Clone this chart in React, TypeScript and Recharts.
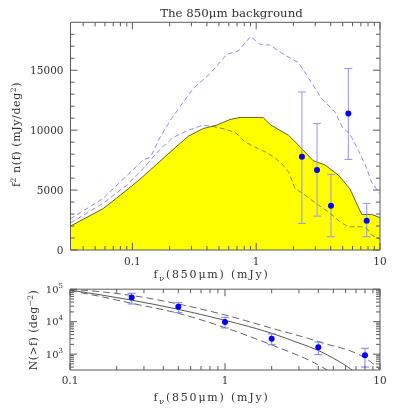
import React from 'react';
import { ComposedChart, Line, Area, Scatter, XAxis, YAxis, ErrorBar } from 'recharts';

const FONT = '"DejaVu Serif", serif';
const INK = '#333333';
const FRAME = '#5a5a5a';
const BLUE = '#0000ff';
const LIGHT = '#8c8cff';

// ---------- Top panel: f^2 n(f) (mJy/deg^2) ----------
const bgFlux = [0.0316, 0.058, 0.09, 0.115, 0.201, 0.283, 0.374, 0.48, 0.614, 0.74, 1.14, 1.3, 1.82, 2.26, 2.89, 3.59, 4.6, 5.72, 7.11, 8.57, 10];
const bgValue = [2000, 3450, 5000, 5900, 8150, 9500, 10140, 10420, 10890, 11060, 11060, 10450, 9580, 8610, 7450, 7100, 6250, 5100, 2970, 2970, 2700];

const hiFlux = [0.0316, 0.058, 0.09, 0.122, 0.14, 0.167, 0.207, 0.31, 0.424, 0.58, 0.716, 0.904, 1.07, 1.29, 1.71, 2.19, 2.56, 3.38, 4.33, 5.0, 5.7, 6.7, 7.6, 8.6, 10];
const hiValue = [2600, 4300, 6200, 7500, 7750, 9400, 10970, 13470, 14720, 16330, 16610, 17830, 17170, 17100, 16250, 15640, 14580, 12640, 11500, 10200, 9700, 8300, 7100, 5600, 4700];

const loFlux = [0.0316, 0.058, 0.09, 0.122, 0.167, 0.214, 0.283, 0.374, 0.45, 0.578, 0.695, 0.81, 0.97, 1.25, 1.56, 1.82, 2.06, 2.48, 3.18, 3.82, 4.75, 5.55, 7.1, 7.8, 8.57, 10];
const loValue = [2250, 3900, 5400, 6800, 8400, 9400, 10000, 10420, 10300, 10060, 9720, 9030, 8610, 8060, 7360, 6525, 5140, 4580, 3750, 3190, 2360, 1940, 1940, 1810, 1250, 900];

const ptFlux = [2.34, 3.1, 4.02, 5.55, 7.81];
const ptValue = [7780, 6670, 3690, 11390, 2440];
const ptErrLow = [5560, 3840, 2580, 3830, 1330];
const ptErrHigh = [5410, 3890, 2620, 3750, 1450];

// ---------- Bottom panel: N(>f) (deg^-2) ----------
const cntFlux = [0.25, 0.5, 1, 2, 4, 8];
const cntValue = [56000, 29000, 9800, 3000, 1630, 925];
const cntErrLow = [21000, 10100, 3400, 1050, 665, 525];
const cntErrHigh = [18800, 9400, 3800, 1200, 740, 590];

const fitFlux = [0.1, 0.25, 0.5, 1, 2, 3, 4, 5, 6.6, 8];
const fitValue = [94000, 46000, 24000, 11000, 4400, 2200, 1300, 750, 327, 150];
const fitHiFlux = [0.1, 0.156, 0.25, 0.5, 1, 2, 4, 8.84, 10];
const fitHiValue = [100000, 84000, 64000, 35000, 16100, 6270, 2430, 550, 330];
const fitLoFlux = [0.1, 0.156, 0.25, 0.5, 1, 2, 4, 5];
const fitLoValue = [90000, 60000, 36800, 18100, 6530, 1920, 466, 250];

// ---------- Tick values ----------
const topXTicks = [0.04, 0.05, 0.06, 0.07, 0.08, 0.09, 0.1, 0.2, 0.3, 0.4, 0.5, 0.6, 0.7, 0.8, 0.9, 1, 2, 3, 4, 5, 6, 7, 8, 9, 10];
const topYTicks = [0, 1000, 2000, 3000, 4000, 5000, 6000, 7000, 8000, 9000, 10000, 11000, 12000, 13000, 14000, 15000, 16000, 17000, 18000];
const botXTicks = [0.1, 0.2, 0.3, 0.4, 0.5, 0.6, 0.7, 0.8, 0.9, 1, 2, 3, 4, 5, 6, 7, 8, 9, 10];
const botYTicks = [400, 500, 600, 700, 800, 900, 1000, 2000, 3000, 4000, 5000, 6000, 7000, 8000, 9000, 10000, 20000, 30000, 40000, 50000, 60000, 70000, 80000, 90000, 100000];

const zip = (xs: number[], ys: number[]) => xs.map((f, i) => ({ f, v: ys[i] }));
const bgData = zip(bgFlux, bgValue);
const hiData = zip(hiFlux, hiValue);
const loData = zip(loFlux, loValue);
const ptData = ptFlux.map((f, i) => ({ f, v: ptValue[i], err: [ptErrLow[i], ptErrHigh[i]] }));
const cntData = cntFlux.map((f, i) => ({ f, v: cntValue[i], err: [cntErrLow[i], cntErrHigh[i]] }));
const fitData = zip(fitFlux, fitValue);
const fitHiData = zip(fitHiFlux, fitHiValue);
const fitLoData = zip(fitLoFlux, fitLoValue);

const isDecade = (v: number) => Math.abs(Math.log10(v) - Math.round(Math.log10(v))) < 1e-9;

const textProps = { fontFamily: FONT, fill: INK };

function makeXTick(side: 'top' | 'bottom', labelDy: number) {
  return (p: any) => {
    const v = p.payload.value;
    const major = isDecade(v);
    const len = major ? 7 : 4;
    const dir = side === 'bottom' ? -1 : 1;
    return (
      <g>
        <line x1={p.x} x2={p.x} y1={p.y} y2={p.y + dir * len} stroke={FRAME} strokeWidth={1} />
        {side === 'bottom' && major ? (
          <text x={p.x} y={p.y + labelDy} textAnchor="middle" fontSize={10.5} {...textProps}>
            {String(v)}
          </text>
        ) : null}
      </g>
    );
  };
}

function makeYTick(side: 'left' | 'right', kind: 'lin' | 'log') {
  return (p: any) => {
    const v = p.payload.value;
    const major = kind === 'lin' ? v % 5000 === 0 : isDecade(v);
    const len = major ? 7 : 4;
    const dir = side === 'left' ? 1 : -1;
    let label: React.ReactNode = null;
    if (side === 'left' && major) {
      if (kind === 'lin') {
        label = (
          <text x={p.x - 7} y={p.y + 3.8} textAnchor="end" fontSize={10.5} {...textProps}>
            {String(v)}
          </text>
        );
      } else {
        label = (
          <text x={p.x - 7} y={p.y + 3.5} textAnchor="end" fontSize={10} {...textProps}>
            <tspan>10</tspan>
            <tspan dy={-5} fontSize={7}>{String(Math.round(Math.log10(v)))}</tspan>
          </text>
        );
      }
    }
    return (
      <g>
        <line x1={p.x} x2={p.x + dir * len} y1={p.y} y2={p.y} stroke={FRAME} strokeWidth={1} />
        {label}
      </g>
    );
  };
}

const Title = () => (
  <text x={231.5} y={17} textAnchor="middle" fontSize={11.8} {...textProps}>
    The 850μm background
  </text>
);

const TopFluxLabel = () => (
  <text x={211.5} y={278} textAnchor="middle" fontSize={11} letterSpacing={1.8} {...textProps}>
    <tspan>f</tspan>
    <tspan dy={2.5} fontSize={8}>ν</tspan>
    <tspan dy={-2.5}>(850μm)  (mJy)</tspan>
  </text>
);

const BotFluxLabel = () => (
  <text x={211.5} y={121} textAnchor="middle" fontSize={11} letterSpacing={1.8} {...textProps}>
    <tspan>f</tspan>
    <tspan dy={2.5} fontSize={8}>ν</tspan>
    <tspan dy={-2.5}>(850μm)  (mJy)</tspan>
  </text>
);

const TopYLabel = () => (
  <text x={0} y={0} transform="translate(20,134.5) rotate(-90)" textAnchor="middle" fontSize={11} letterSpacing={0.6} {...textProps}>
    <tspan>f</tspan>
    <tspan dy={-4} fontSize={7.5}>2</tspan>
    <tspan dy={4}> n(f)  (mJy/deg</tspan>
    <tspan dy={-4} fontSize={7.5}>2</tspan>
    <tspan dy={4}>)</tspan>
  </text>
);

const BotYLabel = () => (
  <text x={0} y={0} transform="translate(37,50) rotate(-90)" textAnchor="middle" fontSize={11} letterSpacing={0.4} {...textProps}>
    <tspan>N(&gt;f)  (deg</tspan>
    <tspan dy={-4} fontSize={7.5}>−2</tspan>
    <tspan dy={4}>)</tspan>
  </text>
);

const Dot = (p: any) => <circle cx={p.cx} cy={p.cy} r={3} fill={BLUE} />;

const css = `
.blend { mix-blend-mode: multiply; }
.blendbars .recharts-errorBars, .blendbars .recharts-errorBar { mix-blend-mode: multiply; }
`;

export default function App() {
  return (
    <div style={{ position: 'absolute', left: 0, top: 0, width: 415, height: 415, background: '#ffffff' }}>
      <style>{css}</style>
      <div style={{ position: 'absolute', left: 0, top: 0 }}>
        <ComposedChart width={415} height={285} margin={{ top: 21.3, right: 0, bottom: 0, left: 0 }}>
          <XAxis
            xAxisId="b"
            dataKey="f"
            type="number"
            scale="log"
            domain={[0.0316228, 10]}
            allowDataOverflow
            ticks={topXTicks}
            interval={0}
            orientation="bottom"
            height={35}
            tickSize={0}
            tickMargin={0}
            tickLine={false}
            axisLine={{ stroke: FRAME }}
            tick={makeXTick('bottom', 14.5)}
            label={<TopFluxLabel />}
          />
          <XAxis
            xAxisId="t"
            dataKey="f"
            type="number"
            scale="log"
            domain={[0.0316228, 10]}
            allowDataOverflow
            ticks={topXTicks}
            interval={0}
            orientation="top"
            height={1}
            tickSize={0}
            tickMargin={0}
            tickLine={false}
            axisLine={{ stroke: FRAME }}
            tick={makeXTick('top', 0)}
            label={<Title />}
          />
          <YAxis
            yAxisId="l"
            dataKey="v"
            type="number"
            domain={[0, 19000]}
            allowDataOverflow
            ticks={topYTicks}
            interval={0}
            orientation="left"
            width={70.5}
            tickSize={0}
            tickMargin={0}
            tickLine={false}
            axisLine={{ stroke: FRAME }}
            tick={makeYTick('left', 'lin')}
            label={<TopYLabel />}
          />
          <YAxis
            yAxisId="r"
            dataKey="v"
            type="number"
            domain={[0, 19000]}
            allowDataOverflow
            ticks={topYTicks}
            interval={0}
            orientation="right"
            width={35}
            tickSize={0}
            tickMargin={0}
            tickLine={false}
            axisLine={{ stroke: FRAME }}
            tick={makeYTick('right', 'lin')}
          />
          <Area
            data={bgData}
            dataKey="v"
            xAxisId="b"
            yAxisId="l"
            type="linear"
            fill="#ffff00"
            fillOpacity={1}
            stroke="#3a3a20"
            strokeWidth={0.8}
            dot={false}
            activeDot={false}
            isAnimationActive={false}
          />
          <Line
            data={hiData}
            dataKey="v"
            xAxisId="b"
            yAxisId="l"
            type="linear"
            className="blend"
            stroke={LIGHT}
            strokeWidth={1}
            strokeDasharray="5 3"
            dot={false}
            activeDot={false}
            isAnimationActive={false}
          />
          <Line
            data={loData}
            dataKey="v"
            xAxisId="b"
            yAxisId="l"
            type="linear"
            className="blend"
            stroke={LIGHT}
            strokeWidth={1}
            strokeDasharray="5 3"
            dot={false}
            activeDot={false}
            isAnimationActive={false}
          />
          <Scatter
            data={ptData}
            dataKey="v"
            xAxisId="b"
            yAxisId="l"
            className="blendbars"
            fill={BLUE}
            shape={Dot}
            isAnimationActive={false}
          >
            <ErrorBar dataKey="err" direction="y" stroke="#9494ff" strokeWidth={1} width={4} isAnimationActive={false} />
          </Scatter>
        </ComposedChart>
      </div>
      <div style={{ position: 'absolute', left: 0, top: 280 }}>
        <ComposedChart width={415} height={135} margin={{ top: 8.2, right: 0, bottom: 0, left: 0 }}>
          <XAxis
            xAxisId="b"
            dataKey="f"
            type="number"
            scale="log"
            domain={[0.1, 10]}
            allowDataOverflow
            ticks={botXTicks}
            interval={0}
            orientation="bottom"
            height={45}
            tickSize={0}
            tickMargin={0}
            tickLine={false}
            axisLine={{ stroke: FRAME }}
            tick={makeXTick('bottom', 14)}
            label={<BotFluxLabel />}
          />
          <XAxis
            xAxisId="t"
            dataKey="f"
            type="number"
            scale="log"
            domain={[0.1, 10]}
            allowDataOverflow
            ticks={botXTicks}
            interval={0}
            orientation="top"
            height={1}
            tickSize={0}
            tickMargin={0}
            tickLine={false}
            axisLine={{ stroke: FRAME }}
            tick={makeXTick('top', 0)}
          />
          <YAxis
            yAxisId="l"
            dataKey="v"
            type="number"
            scale="log"
            domain={[325, 100000]}
            allowDataOverflow
            ticks={botYTicks}
            interval={0}
            orientation="left"
            width={70}
            tickSize={0}
            tickMargin={0}
            tickLine={false}
            axisLine={{ stroke: FRAME }}
            tick={makeYTick('left', 'log')}
            label={<BotYLabel />}
          />
          <YAxis
            yAxisId="r"
            dataKey="v"
            type="number"
            scale="log"
            domain={[325, 100000]}
            allowDataOverflow
            ticks={botYTicks}
            interval={0}
            orientation="right"
            width={35}
            tickSize={0}
            tickMargin={0}
            tickLine={false}
            axisLine={{ stroke: FRAME }}
            tick={makeYTick('right', 'log')}
          />
          <Line
            data={fitData}
            dataKey="v"
            xAxisId="b"
            yAxisId="l"
            type="monotone"
            stroke="#444444"
            strokeWidth={0.9}
            dot={false}
            activeDot={false}
            isAnimationActive={false}
          />
          <Line
            data={fitHiData}
            dataKey="v"
            xAxisId="b"
            yAxisId="l"
            type="monotone"
            stroke="#555555"
            strokeWidth={0.9}
            strokeDasharray="7 4"
            dot={false}
            activeDot={false}
            isAnimationActive={false}
          />
          <Line
            data={fitLoData}
            dataKey="v"
            xAxisId="b"
            yAxisId="l"
            type="monotone"
            stroke="#555555"
            strokeWidth={0.9}
            strokeDasharray="7 4"
            dot={false}
            activeDot={false}
            isAnimationActive={false}
          />
          <Scatter
            data={cntData}
            dataKey="v"
            xAxisId="b"
            yAxisId="l"
            fill={BLUE}
            shape={Dot}
            isAnimationActive={false}
          >
            <ErrorBar dataKey="err" direction="y" stroke="#7a7aff" strokeWidth={1} width={4} isAnimationActive={false} />
          </Scatter>
        </ComposedChart>
      </div>
    </div>
  );
}
